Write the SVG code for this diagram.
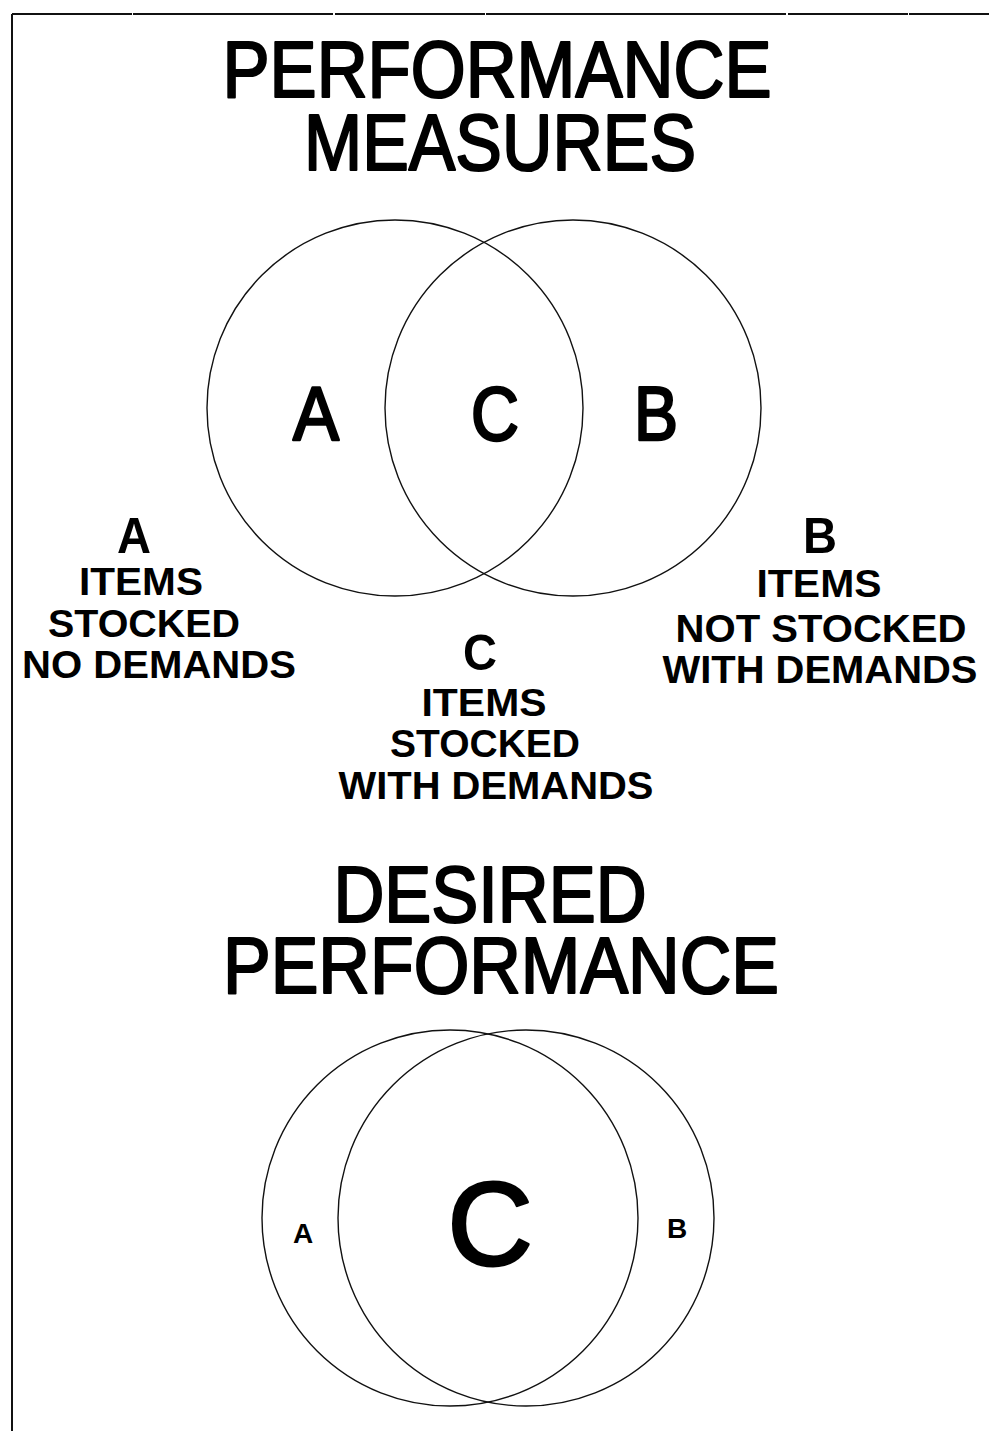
<svg xmlns="http://www.w3.org/2000/svg" width="989" height="1431" viewBox="0 0 989 1431">
<style>
.t{font-family:"Liberation Sans",Arial,sans-serif;fill:#000;text-anchor:middle}
.title{font-size:79px;font-weight:400;stroke:#000;stroke-width:2.2;stroke-linejoin:round}
.big{font-size:76px;font-weight:400;stroke:#000;stroke-width:2.6;stroke-linejoin:round}
.lab{font-size:38px;font-weight:700}
.let{font-size:50px;font-weight:700}
.small{font-size:28px;font-weight:700}
.huge{font-size:118px;font-weight:400;stroke:#000;stroke-width:3;stroke-linejoin:round}
.c{fill:none;stroke:#111;stroke-width:1.4}
.frame{fill:none;stroke:#111;stroke-width:2}
</style>
<rect width="989" height="1431" fill="#fff"/>
<g id="frame">
<line class="frame" x1="12" y1="14" x2="989" y2="14" stroke-dasharray="120 1 200 2 150 1 300 2"/>
<line class="frame" x1="12" y1="14" x2="12" y2="1431"/>
</g>
<g id="title1">
<text class="t title" x="497" y="97" textLength="549" lengthAdjust="spacingAndGlyphs">PERFORMANCE</text>
<text class="t title" x="500" y="170" textLength="392" lengthAdjust="spacingAndGlyphs">MEASURES</text>
</g>
<g id="venn1">
<circle id="circleA" class="c" cx="395" cy="408" r="188"/>
<circle id="circleB" class="c" cx="573" cy="408" r="188"/>
<text class="t big" x="316" y="440" textLength="46" lengthAdjust="spacingAndGlyphs">A</text>
<text class="t big" x="495" y="440" textLength="48" lengthAdjust="spacingAndGlyphs">C</text>
<text class="t big" x="656" y="440" textLength="44" lengthAdjust="spacingAndGlyphs">B</text>
</g>
<g id="labelA">
<text class="t let" x="134" y="553" textLength="34" lengthAdjust="spacingAndGlyphs">A</text>
<text class="t lab" x="141" y="595" textLength="124" lengthAdjust="spacingAndGlyphs">ITEMS</text>
<text class="t lab" x="144" y="637" textLength="192" lengthAdjust="spacingAndGlyphs">STOCKED</text>
<text class="t lab" x="159" y="678" textLength="274" lengthAdjust="spacingAndGlyphs">NO DEMANDS</text>
</g>
<g id="labelB">
<text class="t let" x="820" y="553" textLength="34" lengthAdjust="spacingAndGlyphs">B</text>
<text class="t lab" x="819" y="597" textLength="125" lengthAdjust="spacingAndGlyphs">ITEMS</text>
<text class="t lab" x="821" y="642" textLength="291" lengthAdjust="spacingAndGlyphs">NOT STOCKED</text>
<text class="t lab" x="820" y="683" textLength="315" lengthAdjust="spacingAndGlyphs">WITH DEMANDS</text>
</g>
<g id="labelC">
<text class="t let" x="480" y="670" textLength="34" lengthAdjust="spacingAndGlyphs">C</text>
<text class="t lab" x="484" y="716" textLength="125" lengthAdjust="spacingAndGlyphs">ITEMS</text>
<text class="t lab" x="485" y="757" textLength="190" lengthAdjust="spacingAndGlyphs">STOCKED</text>
<text class="t lab" x="496" y="799" textLength="315" lengthAdjust="spacingAndGlyphs">WITH DEMANDS</text>
</g>
<g id="title2">
<text class="t title" x="490" y="922" textLength="313" lengthAdjust="spacingAndGlyphs">DESIRED</text>
<text class="t title" x="501" y="993" textLength="556" lengthAdjust="spacingAndGlyphs">PERFORMANCE</text>
</g>
<g id="venn2">
<circle id="circleA2" class="c" cx="450" cy="1218" r="188"/>
<circle id="circleB2" class="c" cx="526" cy="1218" r="188"/>
<text class="t small" x="303" y="1243">A</text>
<text class="t small" x="677" y="1238">B</text>
<text class="t huge" x="490" y="1265">C</text>
</g>
</svg>
